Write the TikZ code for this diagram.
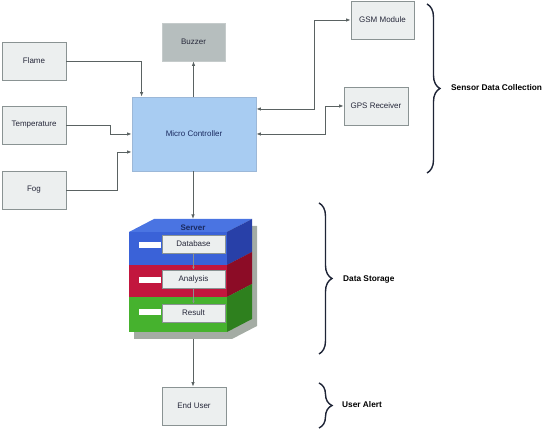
\documentclass[tikz,border=0pt]{standalone}
\usepackage{fontspec}
\setmainfont{Liberation Sans}
\usetikzlibrary{arrows.meta,calc,decorations.pathreplacing}
\definecolor{boxborder}{HTML}{8A9393}
\definecolor{boxfill}{HTML}{ECEFEF}
\definecolor{buzzfill}{HTML}{B6BEBE}
\definecolor{mcfill}{HTML}{A8CCF2}
\definecolor{mcborder}{HTML}{9CB8D8}
\definecolor{linecol}{HTML}{5A6262}
\definecolor{bracecol}{HTML}{1E2436}
\definecolor{txtcol}{HTML}{26283A}
\definecolor{bluefront}{HTML}{3A62D8}
\definecolor{bluetop}{HTML}{4A74E2}
\definecolor{blueside}{HTML}{2840A8}
\definecolor{redfront}{HTML}{C2163E}
\definecolor{redside}{HTML}{8C0C26}
\definecolor{greenfront}{HTML}{46B22E}
\definecolor{greenside}{HTML}{2E801E}
\definecolor{shadowcol}{HTML}{A4ACA4}
\definecolor{servertxt}{HTML}{1A2A60}
\begin{document}
\begin{tikzpicture}[x=1pt,y=-1pt,
  box/.style={draw=boxborder, line width=0.8pt, fill=boxfill, text=txtcol,
    font=\fontsize{8}{10}\selectfont, inner sep=0pt},
  inbox/.style={draw=boxborder, line width=0.6pt, fill=boxfill, text=txtcol,
    font=\fontsize{8}{10}\selectfont, inner sep=0pt, minimum width=63pt, minimum height=18pt},
  bar/.style={fill=white, draw=none},
  arr/.style={draw=linecol, line width=0.8pt, -{Latex[length=4.5pt,width=3.5pt]}},
  darr/.style={draw=linecol, line width=0.8pt, {Latex[length=4.5pt,width=3.5pt]}-{Latex[length=4.5pt,width=3.5pt]}},
  inarr/.style={draw=linecol!70, line width=0.5pt, -{Latex[length=3pt,width=2.5pt]}},
  brace/.style={draw=bracecol, line width=1.4pt, decorate,
    decoration={brace, amplitude=13pt}},
  bracelabel/.style={anchor=west, font=\bfseries\fontsize{8.3}{10}\selectfont, text=black, inner sep=0pt}
]
\useasboundingbox (0,0) rectangle (542,430);

% input boxes
\node[box, minimum width=64pt, minimum height=38pt] (flame) at (34,61) {Flame};
\node[box, minimum width=64pt, minimum height=38pt] (temp) at (34,125) {Temperature};
\node[box, minimum width=64pt, minimum height=38pt] (fog) at (34,190) {Fog};

% buzzer
\node[box, fill=buzzfill, draw=buzzfill!80!white, minimum width=63pt, minimum height=38pt] (buzzer) at (193.5,42) {Buzzer};

% micro controller
\node[box, fill=mcfill, draw=mcborder, text=servertxt, minimum width=124pt, minimum height=74pt] (mc) at (194,134) {Micro Controller};

% GSM, GPS
\node[box, minimum width=63pt, minimum height=38pt] (gsm) at (382.5,20) {GSM Module};
\node[box, minimum width=64pt, minimum height=38pt] (gps) at (376,106) {GPS Receiver};

% server stack
\fill[shadowcol] (134,239) -- (159,226) -- (257,226) -- (257,326) -- (232,339) -- (134,339) -- cycle;
\fill[bluefront] (129,232) rectangle (227,265);
\fill[redfront] (129,265) rectangle (227,297);
\fill[greenfront] (129,297) rectangle (227,332);
\fill[bluetop] (129,232) -- (154,219) -- (252,219) -- (227,232) -- cycle;
\fill[blueside] (227,232) -- (252,219) -- (252,252) -- (227,265) -- cycle;
\fill[redside] (227,265) -- (252,252) -- (252,284) -- (227,297) -- cycle;
\fill[greenside] (227,297) -- (252,284) -- (252,319) -- (227,332) -- cycle;
\coordinate (srvtop) at (193,219);
\coordinate (srvbot) at (193,339);
\node[font=\bfseries\fontsize{8}{10}\selectfont, text=servertxt, inner sep=0pt] (server) at (193,228) {Server};

\fill[bar] (139,242) rectangle (161,248);
\fill[bar] (139,277) rectangle (161,283);
\fill[bar] (139,309) rectangle (161,315);
\node[inbox] (db) at (193.5,244) {Database};
\node[inbox] (an) at (193.5,279) {Analysis};
\node[inbox] (res) at (193.5,313) {Result};
\draw[inarr] (db.south) -- (an.north);
\draw[inarr] (an.south) -- (res.north);

% end user
\node[box, minimum width=64pt, minimum height=38pt] (eu) at (194,406) {End User};

% connectors
\draw[arr] (flame.east) -| ($(mc.north west)+(10,0)$);
\draw[arr] (temp.east) -- (110,125) |- (mc.west);
\draw[arr] (fog.east) -- (117,190) |- ($(mc.west)+(0,18)$);
\draw[arr] (mc.north -| buzzer.south) -- (buzzer.south);
\draw[darr] ($(mc.east)+(0,-25)$) -- (314,109) |- (gsm.west);
\draw[darr] (mc.east) -- (325,134) |- (gps.west);
\draw[arr] (mc.south -| srvtop) -- (srvtop);
\draw[arr] (srvbot) -- (srvbot |- eu.north);

% braces
\draw[brace] (427,4) -- (427,173);
\node[bracelabel] (lab1) at (451,88) {Sensor Data Collection};
\draw[brace] (319,203) -- (319,354);
\node[bracelabel] (lab2) at (343,279) {Data Storage};
\draw[brace] (319,383) -- (319,428);
\node[bracelabel] (lab3) at (342,405) {User Alert};
\end{tikzpicture}
\end{document}
